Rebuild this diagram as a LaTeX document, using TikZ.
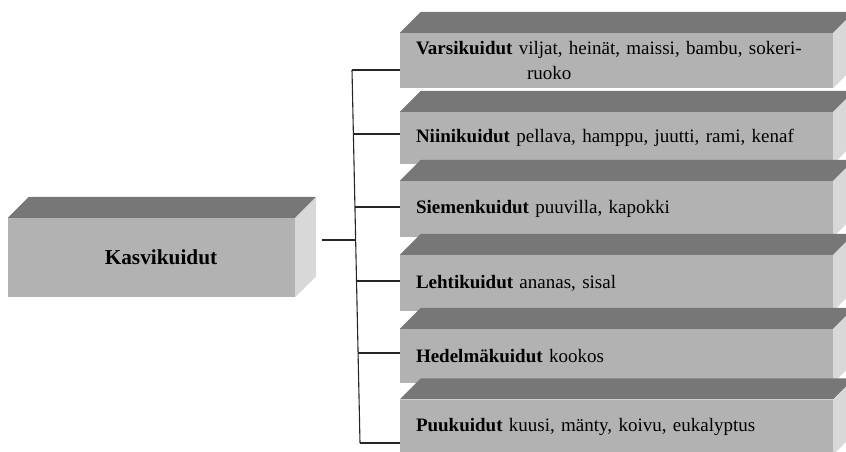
\documentclass[tikz,border=0pt]{standalone}
\usepackage{fontspec}
\setmainfont{Liberation Serif}
\definecolor{etuharmaa}{RGB}{178,178,178}
\definecolor{kattoharmaa}{RGB}{119,119,119}
\definecolor{kylkiharmaa}{RGB}{216,216,216}

\tikzset{
    etupinta/.style={fill=etuharmaa, inner sep=0pt},
    paalaatikko/.style={etupinta, minimum width=287pt, minimum height=79pt,
        font=\fontsize{21.3}{24}\selectfont\bfseries},
    alalaatikko/.style={etupinta, minimum width=433pt, minimum height=55pt,
        text width=401pt, align=left, font=\fontsize{19}{25}\selectfont},
    yhdysviiva/.style={line width=1.1pt, black!85},
}

% syvyys laatikoiden katolle ja kyljelle
\newcommand{\syvyys}{21}
\newcommand{\kolmiulotteinen}[1]{%
    \fill[kattoharmaa] (#1.north west) -- ++(\syvyys,\syvyys) -- ([shift={(\syvyys,\syvyys)}]#1.north east) -- (#1.north east) -- cycle;
    \fill[kylkiharmaa] (#1.north east) -- ++(\syvyys,\syvyys) -- ([shift={(\syvyys,\syvyys)}]#1.south east) -- (#1.south east) -- cycle;
}

\begin{document}
\begin{tikzpicture}[x=1pt,y=1pt]
    \useasboundingbox (0,0) rectangle (846,451);
    \clip (0,0) rectangle (846,451);

    % paalaatikko
    \node[paalaatikko] (kasvi) at (151.5,193.5) {\hspace*{19pt}Kasvikuidut};
    \kolmiulotteinen{kasvi}

    % alalaatikot
    \node[alalaatikko, minimum height=55pt] (b1) at (616.5,390.5)
        {\textbf{Varsikuidut} viljat, heinät, maissi, bambu, sokeri-\\\hspace*{111pt}ruoko};
    \kolmiulotteinen{b1}
    \node[alalaatikko, minimum height=52pt] (b2) at (616.5,313)
        {\textbf{Niinikuidut} pellava, hamppu, juutti, rami, kenaf};
    \kolmiulotteinen{b2}
    \node[alalaatikko, minimum height=56pt] (b3) at (616.5,242)
        {\textbf{Siemenkuidut} puuvilla, kapokki};
    \kolmiulotteinen{b3}
    \node[alalaatikko, minimum height=56pt] (b4) at (616.5,168)
        {\textbf{Lehtikuidut} ananas, sisal};
    \kolmiulotteinen{b4}
    \node[alalaatikko, minimum height=54pt] (b5) at (616.5,95)
        {\textbf{Hedelmäkuidut} kookos};
    \kolmiulotteinen{b5}
    \node[alalaatikko, minimum height=55pt] (b6) at (616.5,24)
        {\textbf{Puukuidut} kuusi, mänty, koivu, eukalyptus};
    \kolmiulotteinen{b6}

    % runko ja haarat
    \coordinate (j1) at (352,381);
    \coordinate (j2) at (353.4,317);
    \coordinate (j3) at (354.9,244);
    \coordinate (j4) at (356.5,170);
    \coordinate (j5) at (358,98);
    \coordinate (j6) at (360,8);
    \coordinate (jk) at (355,211);
    \coordinate (kk) at (322,211);
    \begin{scope}[yhdysviiva]
        \draw (j1) -- (j6);
        \draw (kk) -- (jk);
        \foreach \n in {1,...,6}{%
            \draw (j\n) -- (j\n -| b\n.west);
        }
    \end{scope}
\end{tikzpicture}
\end{document}
